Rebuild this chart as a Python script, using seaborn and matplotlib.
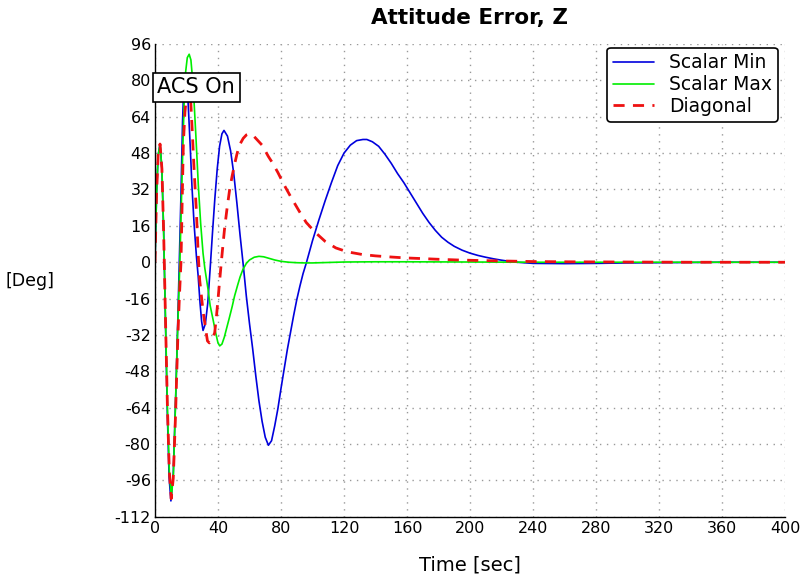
import numpy as np
import pandas as pd
import matplotlib
matplotlib.use("Agg")
import matplotlib.pyplot as plt
import seaborn as sns

# values (time [sec], error [deg])
t_min = [0, 1, 2, 3.2, 4.35, 5.5, 6.65, 7.8, 8.95, 10.1, 11.6, 13.1, 14.5, 15.5, 16.5, 17.5, 18.3, 19,
         19.8, 21, 22.3, 23.5, 24.8, 26.3, 27.4, 28.6, 29.6, 30.5, 32, 33.5, 35, 36.5, 38, 39.5, 41,
         42.5, 43.8, 46, 48, 50, 52, 54, 56, 58, 60, 62, 64, 66, 68, 70, 72, 74, 76, 78, 80, 82, 84,
         86, 88, 90, 92, 94, 96, 98, 100, 104, 108, 112, 116, 120, 124, 128, 132, 134.5, 138, 142,
         146, 150, 154, 158, 162, 166, 170, 174, 178, 182, 186, 190, 195, 200, 205, 210, 215, 220,
         225, 230, 240, 260, 280, 300, 320, 340, 360, 400]
scalar_min = [0, 30, 47, 52, 41.5, 14, -26.5, -65.5, -94.5, -105, -93, -60, -25, 2, 30, 62, 78, 83,
              80, 70.6, 52, 33, 17, 2.6, -6, -18, -26, -30, -27, -18, -3, 13, 28, 41, 51,
              56.5, 58, 55.5, 49, 39, 26, 12, -1, -15, -27, -38, -50, -61, -70, -77, -80.5, -78.5,
              -72, -64.5, -55.5, -47, -38.5, -31, -23.5, -16.5, -10.5, -5, -0.5, 4.5, 9.5, 18.5, 27,
              35, 42.5, 48, 51.5, 53.5, 54, 54, 53, 51, 47.5, 43.5, 39, 35, 30.5, 26, 21.5, 17.5, 14,
              11, 8.8, 7, 5.3, 4, 3, 2.2, 1.5, 0.9, 0.4, 0, -0.5, -0.6, -0.5, -0.3, -0.2, -0.1, 0, 0]

t_max = [0, 1, 2, 3.2, 4.4, 5.5, 6.7, 7.9, 9.1, 10.4, 11.7, 13, 14.3, 15.8, 17.2, 18.5, 19.5, 20.5,
         21.7, 22.8, 23.8, 24.8, 26, 27.5, 29, 30.5, 31.6, 33.7, 35, 36.8, 38.5, 40, 41.1, 42.5,
         44, 45.3, 47, 49, 50.5, 52.5, 54, 55.8, 58, 60, 63, 66, 69, 72, 76, 80, 85, 90, 95, 100,
         110, 120, 140, 160, 200, 240, 400]
scalar_max = [0, 30, 47, 52, 41, 13, -26, -64, -92, -103.5, -93, -63, -32, 0, 38, 70.6, 84, 90,
              91.5, 89, 81, 70.6, 55, 34, 17, 4, -2.5, -12, -19, -25, -31, -35.5, -36.8, -36,
              -33, -29.5, -25, -19.5, -14.9, -10, -6.5, -3.2, -0.5, 1, 2.2, 2.6, 2.4, 1.8, 1, 0.4,
              0, -0.2, -0.3, -0.3, -0.1, 0.1, 0.2, 0.2, 0.1, 0, 0]

t_diag = [0, 1, 2, 3.2, 4.4, 5.5, 6.7, 7.9, 9.1, 10.3, 11.6, 13, 14.5, 15.5, 16.5, 17.2, 18, 19, 20,
          21.2, 22, 22.7, 23.7, 24.8, 26.3, 27.4, 28.4, 29.5, 30.5, 31.6, 32.5, 33.3, 34.5, 36,
          37.9, 39, 40, 41, 42.1, 43.2, 44.2, 45.8, 47.4, 49, 50.5, 52, 53.7, 56, 58, 60, 62, 64,
          66, 68, 70, 72, 74.7, 78, 82, 86, 91.6, 96, 102.1, 108, 114.8, 122, 131.6, 140, 150,
          159, 170, 180, 192, 210, 225, 240, 260, 300, 340, 400]
diagonal = [0, 30, 47, 52, 41, 13, -26, -64, -92, -104, -95, -68, -33, -15, 0, 25, 52, 66, 73,
            76, 74, 70.6, 57, 41, 22, 4, -8, -15, -21.5, -26.6, -31, -34.6, -35.5, -34.5,
            -31, -24, -16.4, -8.5, 0, 8, 15, 24, 32, 38, 43, 47.5, 51.6, 54.5, 56, 56.5, 56, 54.5,
            53, 51.5, 49, 46.5, 43.6, 39.5, 34, 29, 22.4, 17.5, 12.9, 9.2, 6.3, 4.6, 3.4, 2.8, 2.3,
            1.9, 1.6, 1.3, 1, 0.7, 0.5, 0.3, 0.2, 0.1, 0, 0]

x_ticks = list(range(0, 401, 40))
y_ticks = list(range(-112, 97, 16))

sns.set_style("white")
plt.rcParams["font.family"] = ["DejaVu Sans"]
plt.rcParams["axes.unicode_minus"] = False
plt.rcParams["text.color"] = "black"
plt.rcParams["axes.labelcolor"] = "black"
plt.rcParams["xtick.color"] = "black"
plt.rcParams["ytick.color"] = "black"

fig = plt.figure(figsize=(8.06, 5.86), dpi=100)
ax = fig.add_axes([0.1923, 0.118, 0.7817, 0.8069])

sns.lineplot(x=t_min, y=scalar_min, ax=ax, color="#0000dd", lw=1.2, label="Scalar Min")
sns.lineplot(x=t_max, y=scalar_max, ax=ax, color="#00ee00", lw=1.2, label="Scalar Max")
sns.lineplot(x=t_diag, y=diagonal, ax=ax, color="#ee1111", lw=2.0, label="Diagonal",
             dashes=False, linestyle=(0, (4, 3)))

ax.set_xlim(0, 400)
ax.set_ylim(-112, 96)
ax.set_xticks(x_ticks)
ax.set_yticks(y_ticks)
ax.set_xticks(np.arange(0, 401, 4), minor=True)
ax.set_yticks(np.arange(-112, 96.1, 1.6), minor=True)
ax.grid(True, which="major", color="#999999", linestyle=(0, (1, 4)), linewidth=1.0)

for side in ["top", "right"]:
    ax.spines[side].set_visible(False)
for side in ["left", "bottom"]:
    ax.spines[side].set_color("black")
    ax.spines[side].set_linewidth(1.0)

ax.tick_params(which="major", direction="in", length=5, width=0.8, labelsize=11.5, pad=3)
ax.tick_params(which="minor", direction="in", length=3, width=0.6)

fig.text(0.583, 0.969, "Attitude Error, Z", fontsize=15.5, fontweight="bold",
         ha="center", va="center")
ax.set_xlabel("Time [sec]", fontsize=14, labelpad=14)
fig.text(0.037, 0.52, "[Deg]", fontsize=12.5, ha="center", va="center")

ax.text(1.5, 77, "ACS On", fontsize=15, ha="left", va="center",
        bbox=dict(boxstyle="square,pad=0.22", fc="white", ec="black", lw=1.2))

leg = ax.legend(loc="upper right", fontsize=13.5, frameon=True, handlelength=2.2,
                borderpad=0.3, labelspacing=0.15, handletextpad=0.8,
                fancybox=True, bbox_to_anchor=(1.003, 1.012))
leg.get_frame().set_edgecolor("black")
leg.get_frame().set_linewidth(1.2)
leg.get_frame().set_alpha(1)

fig.savefig("out.png", dpi=100)
